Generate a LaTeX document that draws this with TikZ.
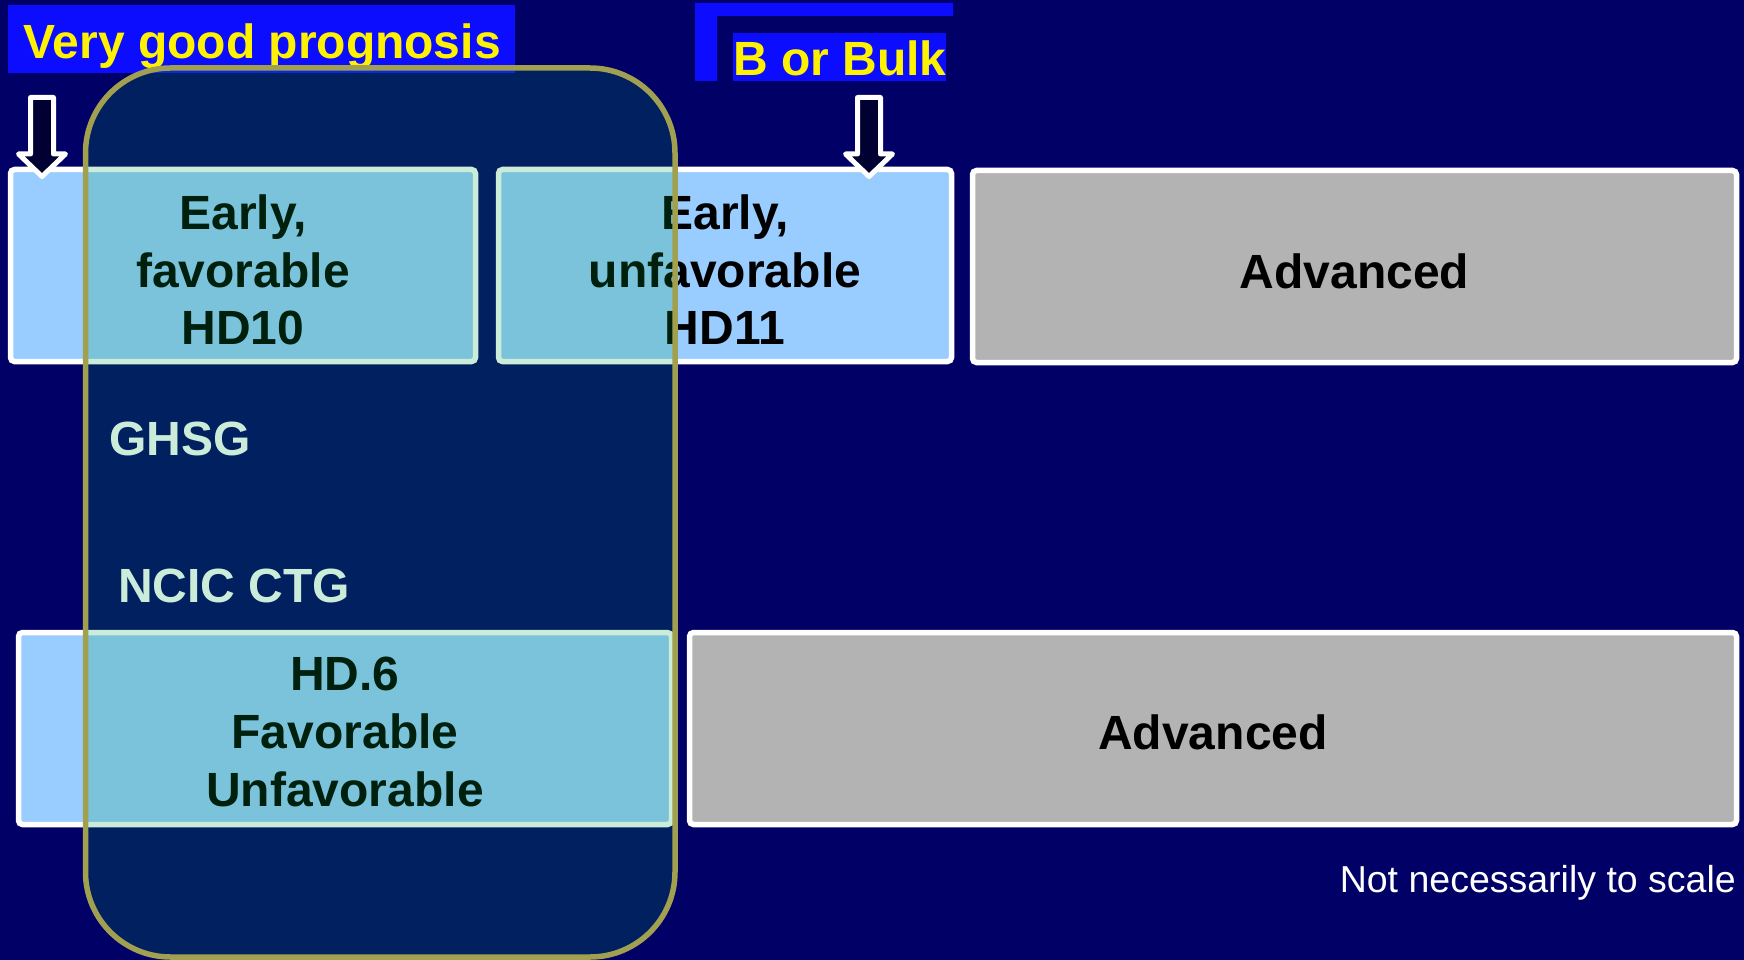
\documentclass[tikz,border=0pt]{standalone}
\usepackage{fontspec}
\setmainfont{Liberation Sans}
\definecolor{bgnavy}{RGB}{0,0,102}
\definecolor{lblue}{RGB}{12,12,255}
\definecolor{boxblue}{RGB}{153,204,255}
\definecolor{boxgray}{RGB}{179,179,179}
\definecolor{arrowfill}{RGB}{0,0,51}
\definecolor{olivebord}{RGB}{160,160,80}
\definecolor{ovgreen}{RGB}{0,160,72}
\begin{document}
\begin{tikzpicture}[x=1pt,y=-1pt,
  big/.style={font=\fontsize{48}{57.6}\selectfont\bfseries},
  stagebox/.style={draw=white, line width=5.5pt, rounded corners=4pt, inner sep=0pt, outer sep=0pt},
  boxtext/.style={text=black, align=center, big, inner sep=0pt},
  labelbox/.style={fill=lblue, draw=none, inner sep=0pt, outer sep=0pt},
  labeltext/.style={big, text=yellow, anchor=base, inner sep=0pt},
  groupname/.style={big, text=white, anchor=base west, inner sep=0pt},
  blockarrow/.style={draw=white, line width=5pt, fill=arrowfill, line join=round},
  groupframe/.style={draw=olivebord, line width=5.5pt, fill=ovgreen, fill opacity=0.2, rounded corners=85pt}
]
\useasboundingbox (0,0) rectangle (1744,960);
\fill[bgnavy] (0,0) rectangle (1744,960);

% labels
\node[labelbox, minimum width=507pt, minimum height=68pt, anchor=north west] (vgpbox) at (8,5) {};
\node[labeltext] (vgp) at (262,59) {Very good prognosis};

\fill[lblue] (695,3) -- (953,3) -- (953,16) -- (717,16) -- (717,81) -- (695,81) -- cycle;
\node[labelbox, minimum width=213pt, minimum height=48pt] (bulkbox) at (839.5,57) {};
\node[labeltext] (bulk) at (840,76) {B or Bulk};

% stage boxes
\node[stagebox, fill=boxblue, minimum width=465pt, minimum height=192pt] (a) at (243,265.5) {};
\node[boxtext] (atext) at ([yshift=-4.5pt]a.center) {Early,\\favorable\\HD10};
\node[stagebox, fill=boxblue, minimum width=453pt, minimum height=192pt] (b) at (725,265.5) {};
\node[boxtext] (btext) at ([yshift=-4.5pt]b.center) {Early,\\unfavorable\\HD11};
\node[stagebox, fill=boxgray, minimum width=764pt, minimum height=192pt] (c) at (1354.5,266.5) {};
\node[boxtext] (ctext) at ([yshift=-4.5pt]c.center) {Advanced};

\node[groupname] (ghsg) at (109,455) {GHSG};
\node[groupname] (ncic) at (118,602) {NCIC CTG};

\node[stagebox, fill=boxblue, minimum width=653pt, minimum height=192pt] (d) at (345,728.5) {};
\node[boxtext] (dtext) at ([yshift=-3.5pt]d.center) {HD.6\\Favorable\\Unfavorable};
\node[stagebox, fill=boxgray, minimum width=1047pt, minimum height=192pt] (e) at (1213,728.5) {};
\node[boxtext] (etext) at ([yshift=-3.5pt]e.center) {Advanced};

% block arrows
\draw[blockarrow] (30.5,97.5) -- (53.5,97.5) -- (53.5,154) -- (65.5,154) -- (42,176.5) -- (18.5,154) -- (30.5,154) -- cycle;
\draw[blockarrow] (857.5,97.5) -- (880.5,97.5) -- (880.5,154) -- (892.5,154) -- (869,176.5) -- (845.5,154) -- (857.5,154) -- cycle;

\node[anchor=base east, inner sep=0pt, text=white, font=\fontsize{37.5}{45}\selectfont] (scale) at (1736,892) {Not necessarily to scale};

% translucent group frame
\draw[groupframe] (85.5,68) rectangle (675,957);
\end{tikzpicture}
\end{document}
